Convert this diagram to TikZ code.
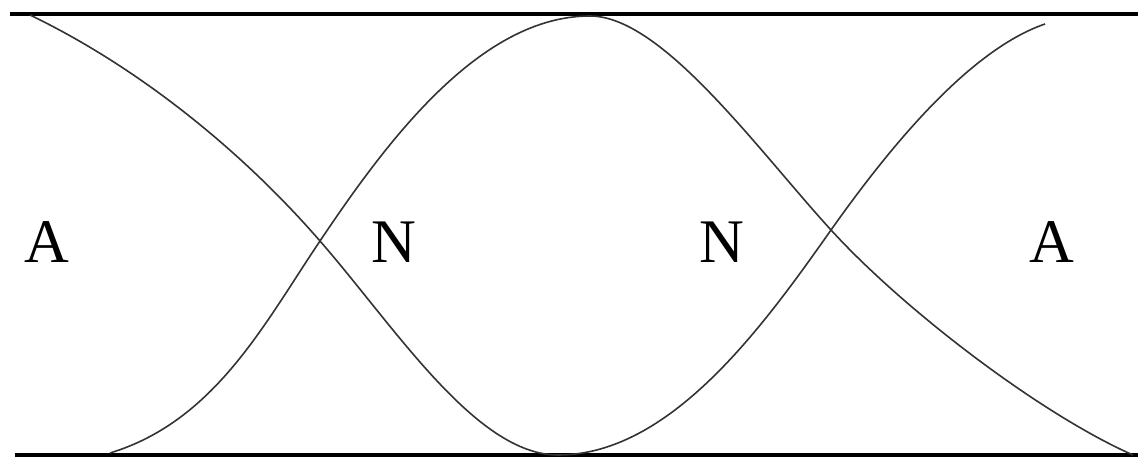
\documentclass[tikz,border=0pt]{standalone}
\usepackage{fontspec}
\setmainfont{Liberation Serif}
\begin{document}
\begin{tikzpicture}[x=0.5pt,y=-0.5pt,
  rail/.style={line width=1.6pt,black},
  wave/.style={line width=0.8pt,black!80},
  lbl/.style={anchor=base,inner sep=0pt,font=\fontsize{31}{31}\selectfont}]
\useasboundingbox (0,0) rectangle (1138,464);
\coordinate (tl) at (10,14);
\coordinate (tr) at (1138,14);
\coordinate (bl) at (15,455);
\coordinate (br) at (1138,455);
\coordinate (x1) at (320,241);
\coordinate (x2) at (831,230);
\draw[rail] (tl) -- (tr);
\draw[rail] (bl) -- (br);
% curve 1: top-left -> bottom -> top-right
\draw[wave] (30,15) .. controls (138,67) and (241,150) .. (x1)
  .. controls (395,327) and (476,455) .. (558,455)
  .. controls (670,455) and (762,328) .. (x2)
  .. controls (889,148) and (969,50) .. (1045,24);
% curve 2: bottom-left -> top -> bottom-right
\draw[wave] (110,453) .. controls (215,421) and (264,324) .. (x1)
  .. controls (387,141) and (480,16) .. (590,16)
  .. controls (662,16) and (757,149) .. (x2)
  .. controls (905,311) and (1042,415) .. (1133,455);
\node[lbl] (a1) at (47,263) {A};
\node[lbl] (n1) at (394,263) {N};
\node[lbl] (n2) at (722,263) {N};
\node[lbl] (a2) at (1052,263) {A};
\end{tikzpicture}
\end{document}
